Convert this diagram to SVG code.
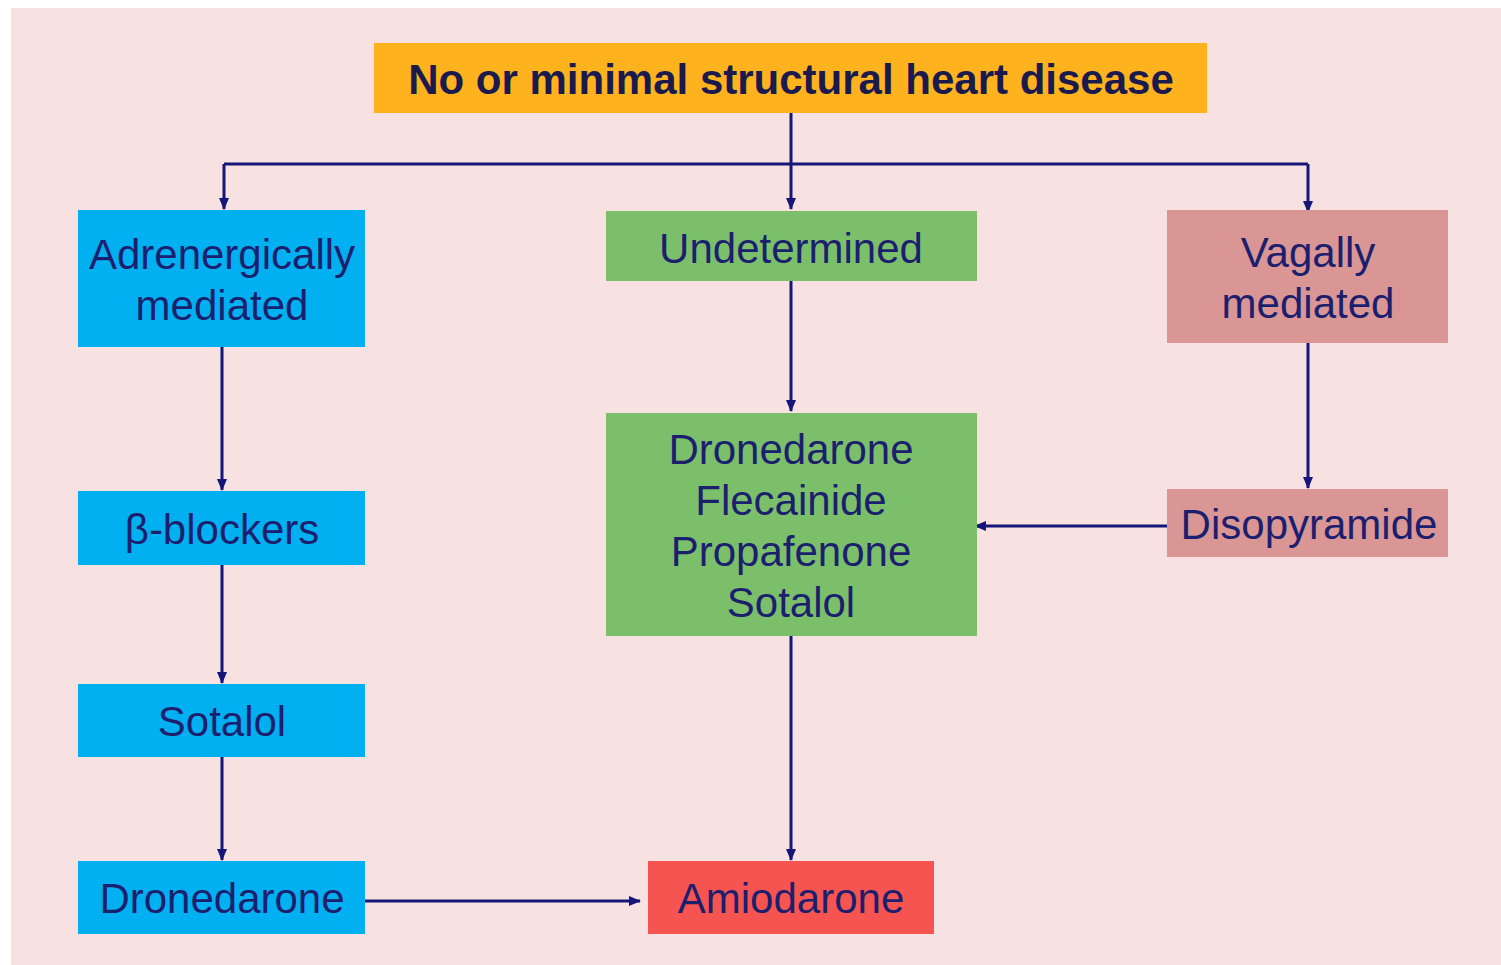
<svg xmlns="http://www.w3.org/2000/svg" width="1501" height="965" viewBox="0 0 1501 965">
<style>
.t{font-family:"Liberation Sans",Arial,sans-serif;font-size:42px;fill:#1b1f6e;text-anchor:middle}
.b{font-weight:bold;fill:#1a1a4f}
.c{stroke:#15157a;stroke-width:3;fill:none}
.blue{fill:#00b0f0}.green{fill:#7bbf6b}.rose{fill:#d99694}.orange{fill:#feb21d}.red{fill:#f55450}
</style>
<defs>
<marker id="ah" viewBox="0 0 12 10" refX="11" refY="5" markerWidth="12" markerHeight="10" markerUnits="userSpaceOnUse" orient="auto">
<path d="M0,0 L12,5 L0,10 Z" fill="#15157a"/>
</marker>
</defs>
<rect x="0" y="0" width="1501" height="965" fill="#ffffff"/>
<rect x="11" y="8" width="1490" height="957" fill="#f7e2e1"/>
<g id="connectors">
<path class="c" d="M791,113 V209" marker-end="url(#ah)"/>
<path class="c" d="M224,164 H1308"/>
<path class="c" d="M224,164 V209" marker-end="url(#ah)"/>
<path class="c" d="M1308,164 V212" marker-end="url(#ah)"/>
<path class="c" d="M222,347 V490" marker-end="url(#ah)"/>
<path class="c" d="M222,565 V683" marker-end="url(#ah)"/>
<path class="c" d="M222,757 V860" marker-end="url(#ah)"/>
<path class="c" d="M365,901 H640" marker-end="url(#ah)"/>
<path class="c" d="M791,281 V411" marker-end="url(#ah)"/>
<path class="c" d="M791,636 V860" marker-end="url(#ah)"/>
<path class="c" d="M1308,343 V488" marker-end="url(#ah)"/>
<path class="c" d="M1167,526 H975" marker-end="url(#ah)"/>
</g>
<g id="top"><rect class="orange" x="374" y="43" width="833" height="70"/><text class="t b" x="791" y="94">No or minimal structural heart disease</text></g>
<g id="adrenergic"><rect class="blue" x="78" y="210" width="287" height="137"/><text class="t" x="222" y="269">Adrenergically</text><text class="t" x="222" y="320">mediated</text></g>
<g id="undetermined"><rect class="green" x="606" y="211" width="371" height="70"/><text class="t" x="791" y="263">Undetermined</text></g>
<g id="vagal"><rect class="rose" x="1167" y="210" width="281" height="133"/><text class="t" x="1308" y="267">Vagally</text><text class="t" x="1308" y="318">mediated</text></g>
<g id="betablockers"><rect class="blue" x="78" y="491" width="287" height="74"/><text class="t" x="222" y="544">β-blockers</text></g>
<g id="sotalol"><rect class="blue" x="78" y="684" width="287" height="73"/><text class="t" x="222" y="736">Sotalol</text></g>
<g id="dronedarone"><rect class="blue" x="78" y="861" width="287" height="73"/><text class="t" x="222" y="913">Dronedarone</text></g>
<g id="drugs"><rect class="green" x="606" y="413" width="371" height="223"/><text class="t" x="791" y="464">Dronedarone</text><text class="t" x="791" y="515">Flecainide</text><text class="t" x="791" y="566">Propafenone</text><text class="t" x="791" y="617">Sotalol</text></g>
<g id="disopyramide"><rect class="rose" x="1167" y="489" width="281" height="68"/><text class="t" x="1309" y="539">Disopyramide</text></g>
<g id="amiodarone"><rect class="red" x="648" y="861" width="286" height="73"/><text class="t" x="791" y="913">Amiodarone</text></g>
</svg>
